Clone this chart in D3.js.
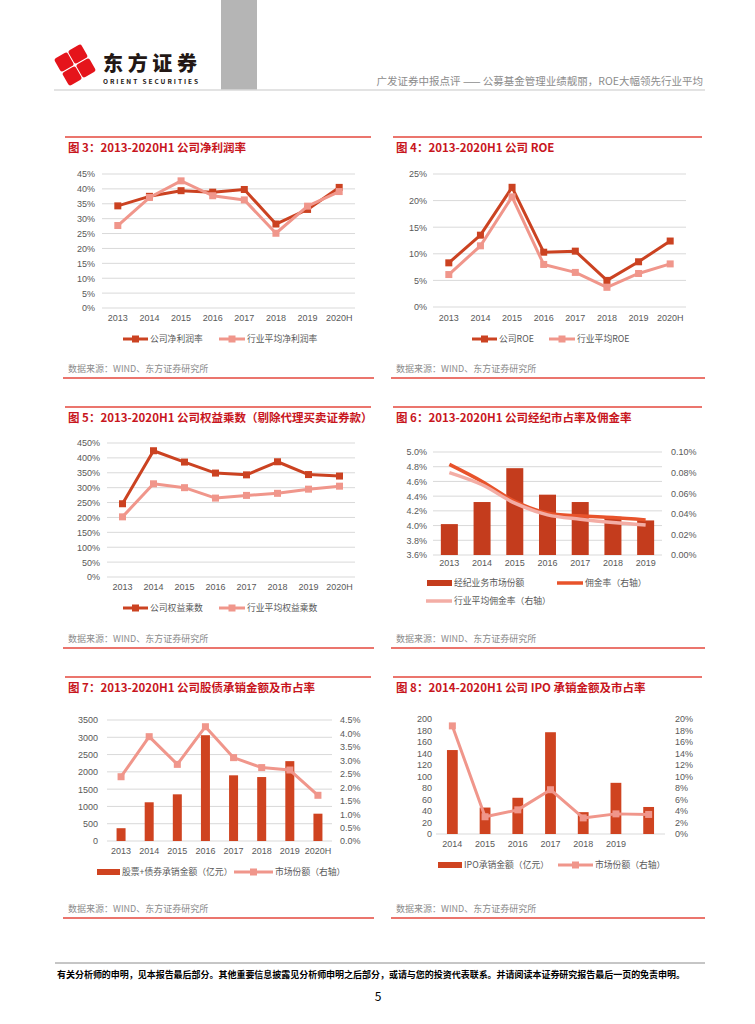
<!DOCTYPE html>
<html>
<head>
<meta charset="utf-8">
<script src="https://cdn.jsdelivr.net/npm/d3@7"></script>
<style>
  body { margin: 0; background: #fff; }
  svg text { font-family: "Noto Sans CJK SC", "Noto Sans", sans-serif; }
  .tick text { fill: #595959; font-size: 9px; font-family: "Liberation Sans", "Noto Sans", sans-serif; }
</style>
</head>
<body>
<svg id="page" width="755" height="1024"></svg>
<script>
// ---- data ----
const years8 = ['2013', '2014', '2015', '2016', '2017', '2018', '2019', '2020H'];
const years7 = ['2013', '2014', '2015', '2016', '2017', '2018', '2019'];
const ipoYears = ['2014', '2015', '2016', '2017', '2018', '2019', '2020H'];
const ipoTickLabels = ['2014', '2015', '2016', '2017', '2018', '2019', ''];

const netMarginCompany = [34.3, 37.5, 39.4, 38.9, 39.8, 28.2, 33.1, 40.5];
const netMarginIndustry = [27.7, 37.1, 42.7, 37.7, 36.3, 25.1, 34.2, 39.1];

const roeCompany = [8.3, 13.5, 22.5, 10.3, 10.5, 5.0, 8.5, 12.4];
const roeIndustry = [6.1, 11.5, 20.7, 8.0, 6.5, 3.7, 6.3, 8.1];

const equityCompany = [246, 424, 386, 349, 343, 387, 344, 339];
const equityIndustry = [202, 313, 300, 265, 274, 281, 295, 305];

const brokerShare = [4.02, 4.32, 4.78, 4.42, 4.32, 4.12, 4.07];
const commissionCompany = [0.0880, 0.0714, 0.0520, 0.0406, 0.0380, 0.0364, 0.0341];
const commissionIndustry = [0.0800, 0.0682, 0.0503, 0.0390, 0.0347, 0.0315, 0.0292];

const underwriteAmount = [370, 1120, 1350, 3060, 1900, 1850, 2310, 790];
const underwriteShare = [2.39, 3.88, 2.85, 4.25, 3.10, 2.73, 2.64, 1.70];

const ipoAmount = [146, 46, 63, 177, 38, 89, 47];
const ipoShare = [18.8, 3.0, 4.2, 7.7, 2.8, 3.5, 3.4];

// ---- colours ----
const RED = '#CB4221', PINK = '#F0968B', BAR = '#C43C1D', BAR2 = '#CF4320';
const ORANGE = '#E8532B', LIGHT = '#F3ADA5', PANEL_LINE = '#E5473D', TITLE = '#C8161D';

const svg = d3.select('#page');

// ---- header ----
const logo = svg.append('g').attr('transform', 'translate(75,65) rotate(-30)');
[[-8, -8], [8, -8], [-8, 8], [8, 8]].forEach(p => {
  logo.append('rect').attr('x', p[0] - 7.5).attr('y', p[1] - 7.5)
    .attr('width', 15).attr('height', 15).attr('rx', 2.5).attr('fill', '#E5141B');
});
svg.append('text').attr('x', 103).attr('y', 71).attr('font-size', 20).attr('font-weight', 900)
  .attr('fill', '#231815').attr('textLength', 94).text('东方证券');
svg.append('text').attr('x', 103).attr('y', 84).attr('font-size', 6.5).attr('font-weight', 700)
  .attr('fill', '#231815').attr('textLength', 95).attr('font-family', 'Liberation Sans')
  .text('ORIENT   SECURITIES');
svg.append('rect').attr('x', 221).attr('y', 0).attr('width', 36).attr('height', 90).attr('fill', '#B5B5B5');
svg.append('line').attr('x1', 54).attr('x2', 705).attr('y1', 90).attr('y2', 90)
  .attr('stroke', '#DADADA').attr('stroke-width', 1.5);
svg.append('text').attr('x', 703).attr('y', 85).attr('text-anchor', 'end').attr('font-size', 10.5)
  .attr('fill', '#8C8C8C').text('广发证券中报点评 —— 公募基金管理业绩靓丽，ROE大幅领先行业平均');

// ---- footer ----
svg.append('line').attr('x1', 55).attr('x2', 705).attr('y1', 963).attr('y2', 963)
  .attr('stroke', '#8C8C8C').attr('stroke-width', 1);
svg.append('text').attr('x', 57).attr('y', 978).attr('font-size', 9).attr('font-weight', 700)
  .attr('fill', '#000').attr('textLength', 628)
  .text('有关分析师的申明，见本报告最后部分。其他重要信息披露见分析师申明之后部分，或请与您的投资代表联系。并请阅读本证券研究报告最后一页的免责申明。');
svg.append('text').attr('x', 378).attr('y', 1001).attr('text-anchor', 'middle').attr('font-size', 12)
  .attr('font-family', 'Liberation Sans').attr('fill', '#000').text('5');

// ---- helpers ----
function panel(x0, x1, top, title) {
  svg.append('line').attr('x1', x0).attr('x2', x1).attr('y1', top).attr('y2', top)
    .attr('stroke', PANEL_LINE).attr('stroke-width', 1.5);
  svg.append('text').attr('x', x0 + 3).attr('y', top + 15).attr('font-size', 11.5)
    .attr('font-weight', 700).attr('fill', TITLE).text(title);
  svg.append('text').attr('x', x0 + 3).attr('y', top + 235).attr('font-size', 9)
    .attr('fill', '#8C8C8C').text('数据来源：WIND、东方证券研究所');
  svg.append('line').attr('x1', x0 - 2).attr('x2', x1 + 3).attr('y1', top + 241).attr('y2', top + 241)
    .attr('stroke', PANEL_LINE).attr('stroke-width', 1.5);
}

function yAxis(y, x0, x1, side, values, fmt, grid) {
  const axis = (side === 'left' ? d3.axisLeft(y) : d3.axisRight(y))
    .tickValues(values).tickFormat(fmt).tickSize(0).tickPadding(0);
  const g = svg.append('g').attr('transform', `translate(${side === 'left' ? x0 : x1},0)`).call(axis);
  g.select('.domain').remove();
  if (grid) {
    svg.append('g').selectAll('line').data(values).join('line')
      .attr('x1', x0).attr('x2', x1).attr('y1', d => y(d)).attr('y2', d => y(d))
      .attr('stroke', '#D9D9D9').attr('stroke-width', 1);
  }
  return g;
}

function xAxis(x, yPos, labels) {
  const g = svg.append('g').attr('transform', `translate(0,${yPos})`)
    .call(d3.axisBottom(x).tickSize(0).tickPadding(0).tickFormat((d, i) => labels[i]));
  g.select('.domain').remove();
  g.selectAll('.tick text').attr('dy', '0.35em');
}

function lineSeries(x, y, cats, vals, color, width, markers, curve) {
  const pts = cats.map((c, i) => [x(c) + x.bandwidth() / 2, y(vals[i])]);
  svg.append('path').datum(pts).attr('fill', 'none').attr('stroke', color)
    .attr('stroke-width', width).attr('stroke-linejoin', 'round')
    .attr('d', d3.line().curve(curve || d3.curveLinear));
  if (markers) {
    svg.append('g').selectAll('rect').data(pts).join('rect')
      .attr('x', d => d[0] - 3.5).attr('y', d => d[1] - 3.5)
      .attr('width', 7).attr('height', 7).attr('fill', color);
  }
}

function barSeries(x, y, cats, vals, color, frac) {
  const w = x.bandwidth() * frac;
  svg.append('g').selectAll('rect').data(vals).join('rect')
    .attr('x', (d, i) => x(cats[i]) + (x.bandwidth() - w) / 2)
    .attr('y', d => y(d)).attr('width', w)
    .attr('height', d => y.range()[0] - y(d)).attr('fill', color);
}

function legendLine(xs, xe, yy, color, width, marker, label) {
  svg.append('line').attr('x1', xs).attr('x2', xe).attr('y1', yy).attr('y2', yy)
    .attr('stroke', color).attr('stroke-width', width);
  if (marker) {
    const m = (xs + xe) / 2;
    svg.append('rect').attr('x', m - 3.5).attr('y', yy - 3.5).attr('width', 7).attr('height', 7).attr('fill', color);
  }
  svg.append('text').attr('x', xe + 2).attr('y', yy + 3.2).attr('font-size', 8.8)
    .attr('fill', '#595959').text(label);
}

function legendBar(xs, xe, yy, color, label) {
  svg.append('rect').attr('x', xs).attr('y', yy - 3).attr('width', xe - xs).attr('height', 6).attr('fill', color);
  svg.append('text').attr('x', xe + 2).attr('y', yy + 3.2).attr('font-size', 8.8)
    .attr('fill', '#595959').text(label);
}

const pct0 = d => d + '%';

// ---- 图3 净利润率 ----
panel(65, 371, 137, '图 3：2013-2020H1 公司净利润率');
{
  const x = d3.scaleBand().domain(years8).range([102, 355]);
  const y = d3.scaleLinear().domain([0, 45]).range([308, 174]);
  yAxis(y, 102, 355, 'left', d3.range(0, 46, 5), pct0, true).attr('transform', 'translate(95,0)');
  xAxis(x, 318, years8);
  lineSeries(x, y, years8, netMarginCompany, RED, 3, true);
  lineSeries(x, y, years8, netMarginIndustry, PINK, 3, true);
  legendLine(123, 148, 339, RED, 3, true, '公司净利润率');
  legendLine(219, 245, 339, PINK, 3, true, '行业平均净利润率');
}

// ---- 图4 ROE ----
panel(393, 702, 137, '图 4：2013-2020H1 公司 ROE');
{
  const x = d3.scaleBand().domain(years8).range([433, 686]);
  const y = d3.scaleLinear().domain([0, 25]).range([307, 174]);
  yAxis(y, 433, 686, 'left', d3.range(0, 26, 5), pct0, true).attr('transform', 'translate(427,0)');
  xAxis(x, 318, years8);
  lineSeries(x, y, years8, roeCompany, RED, 3, true);
  lineSeries(x, y, years8, roeIndustry, PINK, 3, true);
  legendLine(472, 497, 339, RED, 3, true, '公司ROE');
  legendLine(549, 575, 339, PINK, 3, true, '行业平均ROE');
}

// ---- 图5 权益乘数 ----
panel(65, 371, 407, '图 5：2013-2020H1 公司权益乘数（剔除代理买卖证券款）');
{
  const x = d3.scaleBand().domain(years8).range([107, 355]);
  const y = d3.scaleLinear().domain([0, 450]).range([577, 443]);
  yAxis(y, 107, 355, 'left', d3.range(0, 451, 50), pct0, true).attr('transform', 'translate(100,0)');
  xAxis(x, 587, years8);
  lineSeries(x, y, years8, equityCompany, RED, 3, true);
  lineSeries(x, y, years8, equityIndustry, PINK, 3, true);
  legendLine(123, 148, 608, RED, 3, true, '公司权益乘数');
  legendLine(219, 245, 608, PINK, 3, true, '行业平均权益乘数');
}

// ---- 图6 经纪市占率及佣金率 ----
panel(393, 702, 407, '图 6：2013-2020H1 公司经纪市占率及佣金率');
{
  const x = d3.scaleBand().domain(years7).range([433, 662]);
  const yl = d3.scaleLinear().domain([3.6, 5.0]).range([555, 452]);
  const yr = d3.scaleLinear().domain([0, 0.10]).range([555, 452]);
  yAxis(yl, 433, 662, 'left', d3.range(0, 8).map(i => 3.6 + i * 0.2), d => d.toFixed(1) + '%', true)
    .attr('transform', 'translate(427,0)');
  yAxis(yr, 433, 662, 'right', d3.range(0, 6).map(i => i * 0.02), d => d.toFixed(2) + '%', false)
    .attr('transform', 'translate(671,0)');
  xAxis(x, 563, years7);
  barSeries(x, yl, years7, brokerShare, BAR, 0.52);
  lineSeries(x, yr, years7, commissionCompany, ORANGE, 3.5, false, d3.curveCatmullRom);
  lineSeries(x, yr, years7, commissionIndustry, LIGHT, 3.5, false, d3.curveCatmullRom);
  legendBar(427, 452, 583, BAR, '经纪业务市场份额');
  legendLine(557, 583, 583, ORANGE, 3.5, false, '佣金率（右轴）');
  legendLine(426, 452, 601, LIGHT, 3.5, false, '行业平均佣金率（右轴）');
}

// ---- 图7 股债承销 ----
panel(65, 371, 677, '图 7：2013-2020H1 公司股债承销金额及市占率');
{
  const x = d3.scaleBand().domain(years8).range([107, 332]);
  const yl = d3.scaleLinear().domain([0, 3500]).range([841, 720]);
  const yr = d3.scaleLinear().domain([0, 4.5]).range([841, 720]);
  yAxis(yl, 107, 332, 'left', d3.range(0, 3501, 500), d => d, true).attr('transform', 'translate(98,0)');
  yAxis(yr, 107, 332, 'right', d3.range(0, 10).map(i => i * 0.5), d => d.toFixed(1) + '%', false)
    .attr('transform', 'translate(340,0)');
  xAxis(x, 851, years8);
  barSeries(x, yl, years8, underwriteAmount, BAR2, 0.32);
  lineSeries(x, yr, years8, underwriteShare, PINK, 3, true);
  legendBar(97, 120, 872, BAR2, '股票+债券承销金额（亿元）');
  legendLine(234, 273, 872, PINK, 3, true, '市场份额（右轴）');
}

// ---- 图8 IPO承销 ----
panel(393, 702, 677, '图 8：2014-2020H1 公司 IPO 承销金额及市占率');
{
  const x = d3.scaleBand().domain(ipoYears).range([436, 665]);
  const yl = d3.scaleLinear().domain([0, 200]).range([834, 719]);
  const yr = d3.scaleLinear().domain([0, 20]).range([834, 719]);
  yAxis(yl, 436, 665, 'left', d3.range(0, 201, 20), d => d, false).attr('transform', 'translate(432,0)');
  yAxis(yr, 436, 665, 'right', d3.range(0, 21, 2), pct0, false).attr('transform', 'translate(675,0)');
  svg.append('line').attr('x1', 436).attr('x2', 665).attr('y1', 834).attr('y2', 834)
    .attr('stroke', '#D9D9D9').attr('stroke-width', 1);
  xAxis(x, 844, ipoTickLabels);
  barSeries(x, yl, ipoYears, ipoAmount, BAR2, 0.33);
  lineSeries(x, yr, ipoYears, ipoShare, PINK, 3, true);
  legendBar(438, 462, 865, BAR2, 'IPO承销金额（亿元）');
  legendLine(558, 593, 865, PINK, 3, true, '市场份额（右轴）');
}
</script>
</body>
</html>
